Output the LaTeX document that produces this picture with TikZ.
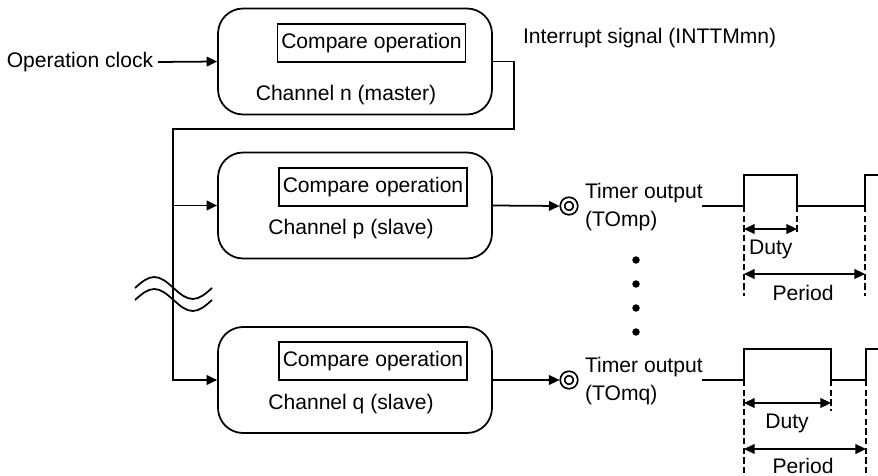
\documentclass[tikz,border=0pt]{standalone}
\usepackage{fontspec}
\setmainfont{Liberation Sans}
\usetikzlibrary{arrows.meta}

\begin{document}
\begin{tikzpicture}[x=0.02cm,y=-0.02cm,line cap=butt,line join=miter,>={Triangle[length=6pt,width=5.5pt]},
    every node/.style={inner sep=1pt,font=\fontsize{12}{14}\selectfont},
    chbox/.style={draw,line width=1pt,rounded corners=0.5cm,minimum width=5.48cm,minimum height=2.12cm},
    cmpbox/.style={draw,line width=0.9pt,minimum width=3.76cm,minimum height=0.76cm},
    term/.style={draw,circle,double,double distance=1.5pt,line width=1pt,minimum size=0.26cm,inner sep=0pt,outer sep=0pt},
    wire/.style={line width=1pt},
    dimline/.style={line width=1pt,dash pattern=on 3.6pt off 1.9pt}]
  \useasboundingbox (0,0) rectangle (878,476);
  % channels
  \node[chbox] (chn) at (355,61.5) {};
  \node[chbox] (chp) at (355,205.5) {};
  \node[chbox] (chq) at (355,380) {};
  \node[cmpbox] (cmpn) at (371.5,43) {Compare operation};
  \node[cmpbox] (cmpp) at (373,187) {Compare operation};
  \node[cmpbox] (cmpq) at (373,361) {Compare operation};
  \node (labn) at (346,95) {Channel n (master)};
  \node (labp) at (351,229) {Channel p (slave)};
  \node (labq) at (351,404) {Channel q (slave)};
  \node[anchor=east,inner sep=2.5pt] (clk) at (158,62) {Operation clock};
  \node[anchor=west] (intr) at (521,38) {Interrupt signal (INTTMmn)};
  \coordinate (tap) at (173,129);
  \draw[wire,->] (clk.east) -- (chn.west);
  \draw[wire,->] (chn.east) -- ++(21,0) |- (tap) |- (chq.west);
  \draw[wire,->] (tap |- chp.west) -- (chp.west);
  % break mark
  \foreach \yb in {288,300}{
    \draw[wire] (135,\yb) sin (154.25,\yb-11) cos (173.5,\yb) sin (192.75,\yb+11) cos (212,\yb);
  }
  % outputs
  \node[term] (outp) at (569,206) {};
  \node[term] (outq) at (569,380) {};
  \draw[wire,->] (chp.east) -- ([xshift=-1.7pt]outp.west);
  \draw[wire,->] (chq.east) -- ([xshift=-1.7pt]outq.west);
  \node[anchor=west,align=left,font=\fontsize{12}{16}\selectfont] (tomp) at (583,207) {Timer output\\(TOmp)};
  \node[anchor=west,align=left,font=\fontsize{12}{16}\selectfont] (tomq) at (583,381) {Timer output\\(TOmq)};
  \foreach \yd in {260,284,308,332}{
    \fill (636,\yd) circle (0.075cm);
  }
  % waveform p
  \draw[wire] (702,206) -- (744,206) -- (744,175) -- (797,175) -- (797,206) -- (865,206) -- (865,175) -- (880,175);
  \draw[dimline] (744,206) -- (744,296);
  \draw[dimline] (797,206) -- (797,234);
  \draw[dimline] (865,206) -- (865,296);
  \draw[wire,<->] (744,229) -- (797,229);
  \draw[wire,<->] (744,274) -- (865,274);
  \node[anchor=west] (dutyp) at (747,249) {Duty};
  \node (perp) at (803,293) {Period};
  % waveform q
  \draw[wire] (702,380) -- (744,380) -- (744,349) -- (831,349) -- (831,380) -- (866,380) -- (866,349) -- (880,349);
  \draw[dimline] (744,380) -- (744,478);
  \draw[dimline] (831,380) -- (831,411);
  \draw[dimline] (866,380) -- (866,478);
  \draw[wire,<->] (744,403) -- (831,403);
  \draw[wire,<->] (744,449) -- (866,449);
  \node (dutyq) at (787,423) {Duty};
  \node (perq) at (803,466) {Period};
\end{tikzpicture}
\end{document}
